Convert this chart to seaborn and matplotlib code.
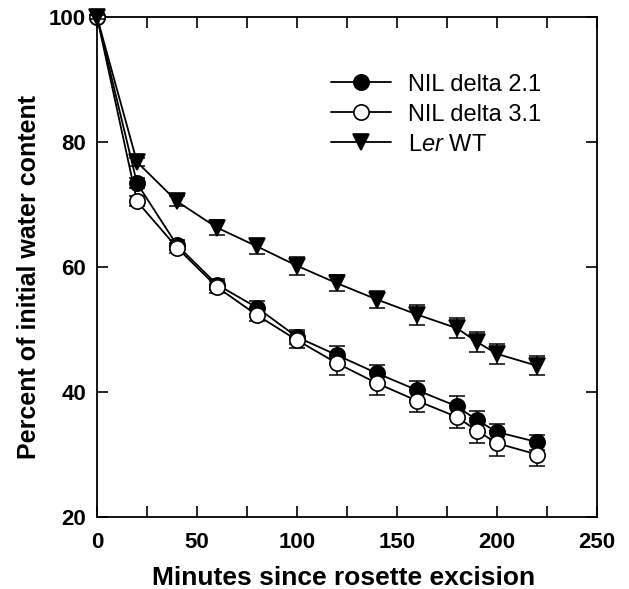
import matplotlib
matplotlib.use("Agg")
import matplotlib.pyplot as plt
import seaborn as sns
import numpy as np

minutes = [0, 20, 40, 60, 80, 100, 120, 140, 160, 180, 190, 200, 220]
nil21 = [100, 73.4, 63.5, 57.2, 53.5, 48.8, 45.9, 43.0, 40.3, 37.7, 35.5, 33.6, 32.0]
nil21_err = [0.3, 0.8, 0.8, 0.9, 1.0, 1.1, 1.4, 1.4, 1.5, 1.6, 1.5, 1.3, 1.2]
nil31 = [100, 70.5, 63.1, 56.8, 52.3, 48.3, 44.6, 41.4, 38.6, 36.0, 33.8, 31.8, 30.0]
nil31_err = [0.3, 0.8, 0.8, 0.9, 1.0, 1.3, 1.8, 1.8, 1.75, 1.8, 2.0, 2.0, 1.8]
ler = [100, 76.8, 70.5, 66.3, 63.3, 60.2, 57.4, 54.8, 52.4, 50.2, 48.0, 46.1, 44.2]
ler_err = [0.3, 0.6, 0.8, 1.2, 1.2, 1.4, 1.3, 1.4, 1.6, 1.6, 1.6, 1.55, 1.55]

labels = ["NIL delta 2.1", "NIL delta 3.1", "L$\\it{er}$ WT"]
x_ticks = [0, 50, 100, 150, 200, 250]
y_ticks = [20, 40, 60, 80, 100]

sns.set_style("ticks")
plt.rcParams["font.family"] = ["Liberation Sans", "DejaVu Sans"]
plt.rcParams["mathtext.fontset"] = "custom"
plt.rcParams["mathtext.rm"] = "Liberation Sans"
plt.rcParams["mathtext.it"] = "Liberation Sans:italic"
plt.rcParams["text.color"] = "black"
plt.rcParams["axes.labelcolor"] = "black"
plt.rcParams["xtick.color"] = "black"
plt.rcParams["ytick.color"] = "black"

fig = plt.figure(figsize=(6.29, 5.89), dpi=100)
ax = fig.add_axes([0.1542, 0.1222, 0.7950, 0.8489])

series = [
    (nil21, nil21_err, "o", "black", 11, 2),
    (nil31, nil31_err, "o", "white", 11, 3),
    (ler, ler_err, "v", "black", 12, 4),
]
handles = []
for (vals, errs, mk, fc, ms, z), lab in zip(series, labels):
    eb = ax.errorbar(minutes, vals, yerr=errs, fmt="none", ecolor="black",
                     elinewidth=1.1, capsize=5.5, capthick=1.1, zorder=z)
    for art in eb.lines[1] + eb.lines[2]:
        art.set_clip_on(False)
    sns.lineplot(x=minutes, y=vals, ax=ax, color="black", linewidth=1.3,
                 marker=mk, markersize=ms, markerfacecolor=fc,
                 markeredgecolor="black", markeredgewidth=1.2, zorder=z + 0.5,
                 clip_on=False)
    handles.append(ax.lines[-1])

ax.set_xlim(0, 250)
ax.set_ylim(20, 100)
ax.set_xticks(x_ticks)
ax.set_xticks(np.arange(0, 251, 25), minor=True)
ax.set_yticks(y_ticks)
ax.tick_params(axis="both", which="both", direction="in", top=True, right=True,
               width=1.2, color="black")
ax.tick_params(axis="both", which="major", length=8, labelsize=16)
ax.tick_params(axis="x", which="major", pad=11)
ax.tick_params(axis="y", which="major", pad=8)
ax.tick_params(axis="x", which="minor", length=8)
for lbl in ax.get_xticklabels() + ax.get_yticklabels():
    lbl.set_fontweight("bold")
for sp in ax.spines.values():
    sp.set_linewidth(1.3)
    sp.set_color("black")

ax.set_xlabel("Minutes since rosette excision", fontsize=19, fontweight="bold")
ax.set_ylabel("Percent of initial water content", fontsize=18, fontweight="bold")
ax.xaxis.set_label_coords(0.494, -0.098)
ax.yaxis.set_label_coords(-0.112, 0.48)

leg = ax.legend(handles, labels, loc="upper left", bbox_to_anchor=(0.468, 0.887),
                frameon=False, fontsize=17, handlelength=2.55, labelspacing=0.34,
                borderpad=0, borderaxespad=0, handletextpad=0.7)

fig.savefig("out.png", dpi=100)
